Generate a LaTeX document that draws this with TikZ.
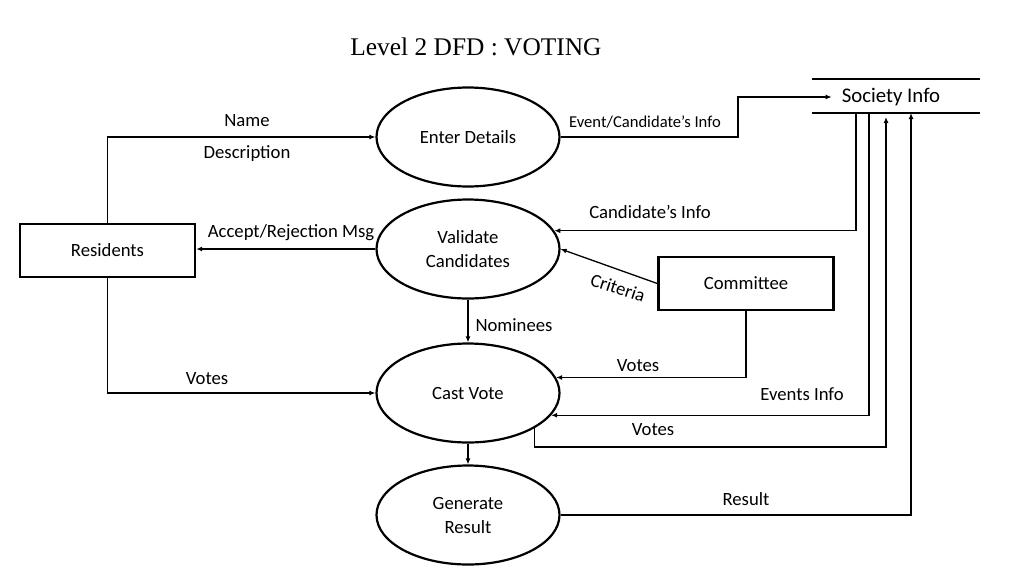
\documentclass[tikz,border=0pt]{standalone}
\usepackage{fontspec}
\setmainfont{Carlito}
\newfontfamily\tnr{Liberation Serif}
\usetikzlibrary{arrows.meta,shapes.geometric,calc}
\begin{document}
\begin{tikzpicture}[x=1pt,y=-1pt,
  lbl/.style={font=\fontsize{18.7}{23}\selectfont, inner sep=0pt},
  proc/.style={ellipse, draw, line width=2.2pt, minimum width=183pt, minimum height=99pt, inner sep=0pt, align=center, font=\fontsize{18.7}{24}\selectfont},
  ent/.style={rectangle, draw, line width=2.4pt, minimum width=175pt, minimum height=53pt, inner sep=0pt, font=\fontsize{18.7}{23}\selectfont},
  flow/.style={line width=1.3pt, -{Latex[length=6pt,width=5pt]}},
  plain/.style={line width=1.3pt}
]
\useasboundingbox (0,0) rectangle (1024,576);
\fill[white] (0,0) rectangle (1024,576);

% title
\node[font=\tnr\fontsize{25.4}{30}\selectfont, inner sep=0pt] (title) at (476,47) {Level 2 DFD : VOTING};

% processes
\node[proc] (ed) at (468,137) {Enter Details};
\node[proc] (vc) at (468,249) {Validate\\Candidates};
\node[proc] (cv) at (468,393) {Cast Vote};
\node[proc] (gr) at (468,515) {Generate\\Result};

% entities
\node[ent] (res) at (107.5,250.5) {Residents};
\node[ent] (com) at (746,283.5) {Committee};

% data store
\node[font=\fontsize{20.8}{25}\selectfont, inner ysep=0pt, inner xsep=10pt] (si) at (891,97) {Society Info};
\coordinate (stl) at (812,79);
\coordinate (str) at (980,79);
\coordinate (sbl) at (812,113);
\coordinate (sbr) at (980,113);
\draw[line width=1.5pt] (stl) -- (str);
\draw[line width=1.5pt] (sbl) -- (sbr);
\coordinate (sb1) at (856,113);
\coordinate (sb2) at (869,113);
\coordinate (sb3) at (886,117);
\coordinate (sb4) at (911,113);
\coordinate (k1) at (738,97);
\coordinate (kv) at (886,447);

% flows
\draw[flow] (res.north) |- (ed.west);
\node[lbl] (lname) at (247,121) {Name};
\node[lbl] (ldesc) at (247,154) {Description};

\draw[flow] (vc.west) -- (vc.west -| res.east);
\node[lbl] (lacc) at (291,233) {Accept/Rejection Msg};

\draw[flow] (res.south) |- (cv.west);
\node[lbl] (lvotes1) at (207,379) {Votes};

\draw[flow] (ed.east) -| (k1) -- (si.west);
\node[lbl, font=\fontsize{16.6}{20}\selectfont] (lev) at (645,122) {Event/Candidate’s Info};

\draw[flow] (sb1) |- (vc.12);
\node[lbl] (lci) at (650,212) {Candidate’s Info};

\draw[flow] (com.west) -- (vc.east);
\node[lbl, rotate=-18] (lcrit) at (618,288) {Criteria};

\draw[flow] (vc.south) -- (cv.north);
\node[lbl] (lnom) at (514,325) {Nominees};

\draw[flow] (com.south) |- (cv.10);
\node[lbl] (lvotes2) at (638,366) {Votes};

\draw[flow] (sb2) |- (cv.-15);
\node[lbl] (levi) at (802,394) {Events Info};

\draw[flow] (cv.-28) |- (kv) -- (sb3);
\node[lbl] (lvotes3) at (653,430) {Votes};

\draw[flow] (cv.south) -- (gr.north);

\draw[flow] (gr.east) -| (sb4);
\node[lbl] (lres) at (746,499) {Result};
\end{tikzpicture}
\end{document}
